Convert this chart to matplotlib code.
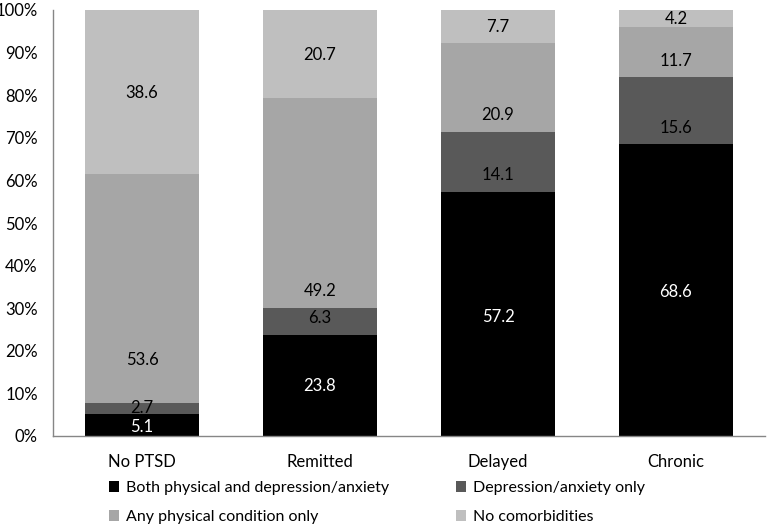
import matplotlib
matplotlib.use("Agg")
import matplotlib.pyplot as plt
from matplotlib.patches import Patch
from matplotlib.ticker import FuncFormatter

categories = ["No PTSD", "Remitted", "Delayed", "Chronic"]
series_names = ["Both physical and depression/anxiety", "Depression/anxiety only",
                "Any physical condition only", "No comorbidities"]
both = [5.1, 23.8, 57.2, 68.6]
dep_only = [2.7, 6.3, 14.1, 15.6]
phys_only = [53.6, 49.2, 20.9, 11.7]
none = [38.6, 20.7, 7.7, 4.2]
series = [both, dep_only, phys_only, none]
colors = ["#000000", "#595959", "#a6a6a6", "#bfbfbf"]
text_colors = ["white", "black", "black", "black"]
# label vertical positions (percent) as placed in the original chart
label_pos = [
    [2.1, 11.8, 28.0, 33.8],
    [6.6, 27.7, 61.3, 72.4],
    [17.9, 34.1, 75.4, 88.1],
    [80.4, 89.5, 96.1, 97.8],
]

plt.rcParams['font.family'] = ['Lato', 'DejaVu Sans']
fig = plt.figure(figsize=(7.67, 5.26), dpi=100)
ax = fig.add_axes([53/767, 1-436/526, 712/767, 426/526])

x = list(range(len(categories)))
bottom = [0.0]*len(categories)
for vals, c in zip(series, colors):
    ax.bar(x, vals, bottom=bottom, width=0.646, color=c, linewidth=0)
    bottom = [b+v for b, v in zip(bottom, vals)]

for si, (vals, tc) in enumerate(zip(series, text_colors)):
    for ci, v in enumerate(vals):
        ax.text(x[ci], label_pos[si][ci], f"{v:.1f}", ha="center", va="center",
                color=tc, fontsize=12)

ax.set_xlim(-0.5, len(categories)-0.5)
ax.set_ylim(0, 100)
ax.set_yticks(range(0, 101, 10))
ax.yaxis.set_major_formatter(FuncFormatter(lambda v, p: f"{int(v)}%"))
ax.set_xticks(x)
ax.set_xticklabels(categories)
ax.tick_params(axis="both", length=0, labelsize=12, colors="black")
ax.tick_params(axis="x", pad=13)
ax.tick_params(axis="y", pad=11)
for s in ["top", "right"]:
    ax.spines[s].set_visible(False)
for s in ["left", "bottom"]:
    ax.spines[s].set_color("#868686")
    ax.spines[s].set_linewidth(1.0)

order = [0, 2, 1, 3]
handles = [Patch(facecolor=colors[i], edgecolor="none") for i in order]
labels = [series_names[i] for i in order]
fig.legend(handles, labels, ncol=2, loc="upper left", bbox_to_anchor=(101/767, 1-473/526),
           frameon=False, fontsize=11.5, handlelength=0.65, handleheight=0.65,
           handletextpad=0.4, columnspacing=4.2, labelspacing=0.95, borderpad=0)

fig.savefig("out.png", dpi=100)
